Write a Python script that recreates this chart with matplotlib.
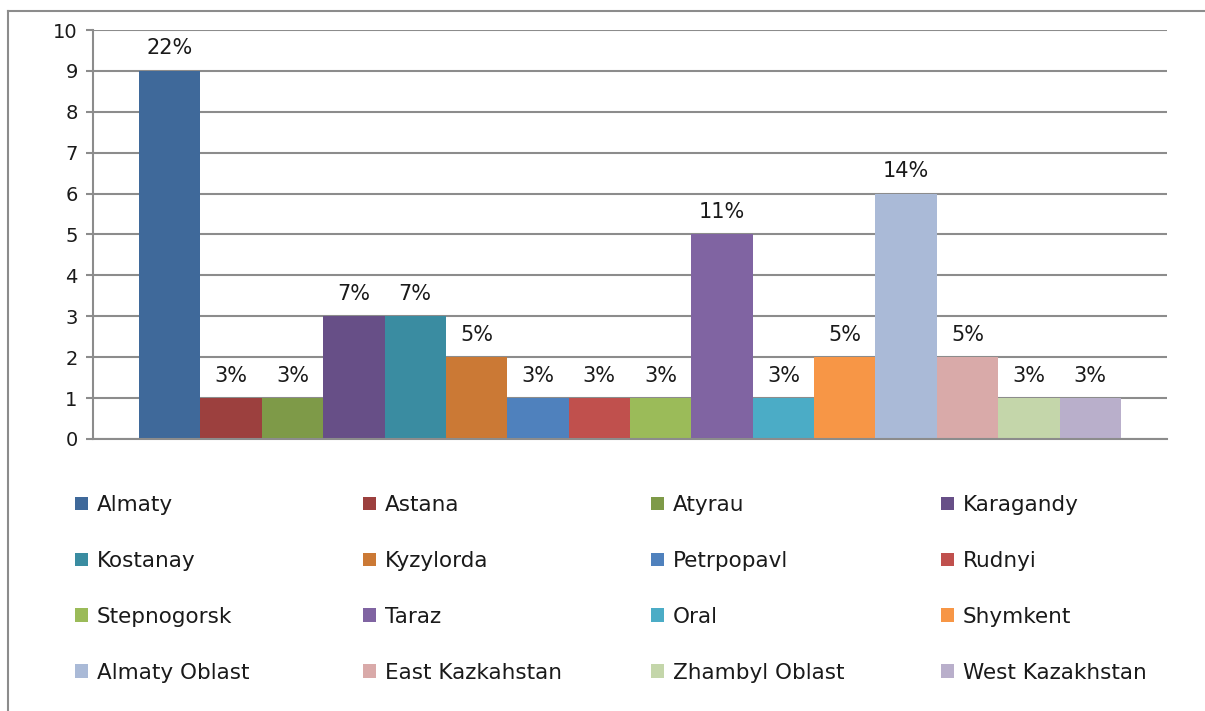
import numpy as np
import matplotlib
matplotlib.use("Agg")
import matplotlib.pyplot as plt
from matplotlib.lines import Line2D

plt.rcParams['font.family'] = ['DejaVu Sans']

cities = ['Almaty', 'Astana', 'Atyrau', 'Karagandy',
          'Kostanay', 'Kyzylorda', 'Petrpopavl', 'Rudnyi',
          'Stepnogorsk', 'Taraz', 'Oral', 'Shymkent',
          'Almaty Oblast', 'East Kazkahstan', 'Zhambyl Oblast', 'West Kazakhstan']
counts = [9, 1, 1, 3, 3, 2, 1, 1, 1, 5, 1, 2, 6, 2, 1, 1]
shares = ['22%', '3%', '3%', '7%', '7%', '5%', '3%', '3%',
          '3%', '11%', '3%', '5%', '14%', '5%', '3%', '3%']
colors = ['#3F699A', '#9C403E', '#7E9A48', '#674F87',
          '#3A8CA1', '#CB7935', '#4F81BD', '#C0504D',
          '#9BBB59', '#8064A2', '#4BACC6', '#F79646',
          '#AABAD7', '#D9AAA9', '#C4D6AA', '#B9AFCB']

GRID = '#8C8C8C'

fig = plt.figure(figsize=(12.05, 7.11), dpi=100)
ax = fig.add_axes([93/1205, 1-439/711, (1167-93)/1205, (439-30)/711])

x = np.arange(len(cities))
bars = ax.bar(x, counts, width=1.0, color=colors, zorder=3)
for b, s in zip(bars, shares):
    ax.annotate(s, (b.get_x() + b.get_width()/2, b.get_height()),
                xytext=(0, 9), textcoords='offset points',
                ha='center', va='bottom', fontsize=15, color='#1a1a1a')

ax.set_xlim(-1.25, 16.25)
ax.set_ylim(0, 10)
ax.set_yticks(range(11))
ax.set_xticks([])
ax.tick_params(axis='y', length=5, width=1.5, color=GRID, labelsize=14,
               pad=6, labelcolor='#1a1a1a')
ax.grid(axis='y', color=GRID, linewidth=1.5, zorder=0)
for side in ['top', 'right']:
    ax.spines[side].set_visible(False)
for side in ['left', 'bottom']:
    ax.spines[side].set_color(GRID)
    ax.spines[side].set_linewidth(1.5)
    ax.spines[side].set_zorder(4)

# legend: four columns, filled row by row
col_x = [75, 363, 651, 941]
for c in range(4):
    idx = [c, c + 4, c + 8, c + 12]
    fig.legend([bars[i] for i in idx], [cities[i] for i in idx],
               loc='upper left', bbox_to_anchor=(col_x[c]/1205, 1-495/711),
               frameon=False, fontsize=15.5, borderpad=0, borderaxespad=0,
               handlelength=0.6, handleheight=0.6, handletextpad=0.4,
               labelspacing=1.67, labelcolor='#1a1a1a')

# outer chart border (top and left edges visible)
fig.add_artist(Line2D([8/1205, 1], [1-11/711, 1-11/711], color=GRID, linewidth=1.5))
fig.add_artist(Line2D([8/1205, 8/1205], [0, 1-11/711], color=GRID, linewidth=1.5))

fig.savefig('out.png', dpi=100)
